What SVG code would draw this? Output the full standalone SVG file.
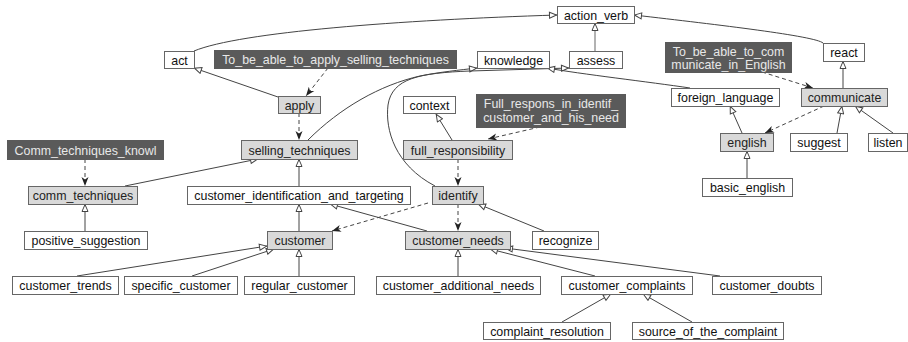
<svg xmlns="http://www.w3.org/2000/svg" width="908" height="342" viewBox="0 0 908 342">
<defs>
<marker id="h" viewBox="0 0 10 8" refX="8.5" refY="4" markerWidth="10" markerHeight="8" orient="auto" markerUnits="userSpaceOnUse"><path d="M1,1 L8,4 L1,7 z" fill="#fff" stroke="#444" stroke-width="1"/></marker>
<marker id="v" viewBox="0 0 9 8" refX="9" refY="4" markerWidth="9" markerHeight="8" orient="auto" markerUnits="userSpaceOnUse"><path d="M0,0.5 L9,4 L0,7.5 L2.5,4 z" fill="#222"/></marker>
<style>
.n rect{stroke:#666;stroke-width:1}
.w rect{fill:#fff}
.g rect{fill:#d9d9d9}
.d rect{fill:#5a5a5a;stroke:#5a5a5a}
text{font-family:"Liberation Sans",Arial,sans-serif;font-size:12.4px;text-anchor:middle}
.w text{fill:#111}
.g text{fill:#222}
.d text{fill:#e8e8e8}
.e path{fill:none;stroke:#444;stroke-width:1}
.e .s{marker-end:url(#h)}
.e .ds{stroke-dasharray:4,3;marker-end:url(#v)}
.e .lt{stroke:#999;stroke-width:1.5}
</style>
</defs>
<g id="connectors" class="e">
<path class="s" d="M194,51 C240,32 400,20 557,15"/>
<path class="s" d="M823,43 C815,36 720,25 634,15"/>
<path class="s lt" d="M595,51 L595,23"/>
<path class="s" d="M278,97 L194,68"/>
<path class="ds" d="M328,68 L306,96"/>
<path class="ds" d="M299,113 L299,140"/>
<path class="s" d="M308,140 C340,108 380,85 420,76 C440,72 460,70 477,68"/>
<path class="s" d="M435,186 C395,165 385,130 388,105 C392,78 420,73 470,71 L569,68"/>
<path class="s" d="M690,88 C650,82 580,74 547,68"/>
<path class="s" d="M452,140 L436,114"/>
<path class="ds" d="M540,127 L488,139"/>
<path class="ds" d="M458,159 L458,186"/>
<path class="ds" d="M458,204 L458,231"/>
<path class="ds" d="M428,203 L332,231"/>
<path class="s" d="M427,231 L330,204"/>
<path class="s" d="M544,231 L478,204"/>
<path class="s" d="M299,186 L299,159"/>
<path class="s" d="M125,186 L258,159"/>
<path class="ds" d="M85,159 L85,186"/>
<path class="s" d="M85,231 L85,204"/>
<path class="s" d="M299,231 L299,204"/>
<path class="s" d="M77,276 L267,246"/>
<path class="s" d="M192,276 L274,249"/>
<path class="s" d="M299,276 L299,249"/>
<path class="s" d="M458,276 L458,249"/>
<path class="s" d="M595,276 L490,249"/>
<path class="s" d="M720,276 L505,248"/>
<path class="s" d="M562,322 L611,294"/>
<path class="s" d="M692,322 L643,294"/>
<path class="s" d="M742,133 L730,106"/>
<path class="ds" d="M824,106 L765,133"/>
<path class="ds" d="M762,72 L813,88"/>
<path class="s" d="M843,88 L843,61"/>
<path class="s" d="M837,133 L842,106"/>
<path class="s" d="M893,133 L855,106"/>
<path class="s" d="M747,178 L747,151"/>
</g>
<g id="action_verb" class="n w"><rect x="557.5" y="6.5" width="77" height="17"/><text x="596" y="19.5">action_verb</text></g>
<g id="act" class="n w"><rect x="164.5" y="51.5" width="30" height="17"/><text x="179.5" y="64.5">act</text></g>
<g id="To_be_able_to_apply_selling_techniques" class="n d"><rect x="214.5" y="50.5" width="242" height="18"/><text x="335.5" y="64">To_be_able_to_apply_selling_techniques</text></g>
<g id="knowledge" class="n w"><rect x="477.5" y="51.5" width="72" height="17"/><text x="513.5" y="64.5">knowledge</text></g>
<g id="assess" class="n w"><rect x="569.5" y="51.5" width="53" height="17"/><text x="596" y="64.5">assess</text></g>
<g id="react" class="n w"><rect x="823.5" y="43.5" width="41" height="18"/><text x="844" y="57">react</text></g>
<g id="To_be_able_to_communicate_in_English" class="n d"><rect x="665.5" y="42.5" width="126" height="30"/><text x="728.5" y="55.5">To_be_able_to_com</text><text x="728.5" y="68.5">municate_in_English</text></g>
<g id="apply" class="n g"><rect x="278.5" y="96.5" width="42" height="17"/><text x="299.5" y="109.5">apply</text></g>
<g id="context" class="n w"><rect x="403.5" y="96.5" width="52" height="17"/><text x="429.5" y="109.5">context</text></g>
<g id="Full_respons_in_identif_customer_and_his_need" class="n d"><rect x="476.5" y="94.5" width="149" height="33"/><text x="551" y="108">Full_respons_in_identif_</text><text x="551" y="121.5">customer_and_his_need</text></g>
<g id="foreign_language" class="n w"><rect x="671.5" y="88.5" width="108" height="18"/><text x="725.5" y="102">foreign_language</text></g>
<g id="communicate" class="n g"><rect x="801.5" y="88.5" width="86" height="18"/><text x="844.5" y="102">communicate</text></g>
<g id="Comm_techniques_knowl" class="n d"><rect x="7.5" y="140.5" width="156" height="19"/><text x="85.5" y="154.5">Comm_techniques_knowl</text></g>
<g id="selling_techniques" class="n g"><rect x="241.5" y="140.5" width="116" height="19"/><text x="299.5" y="154.5">selling_techniques</text></g>
<g id="full_responsibility" class="n g"><rect x="403.5" y="140.5" width="109" height="19"/><text x="458" y="154.5">full_responsibility</text></g>
<g id="english" class="n g"><rect x="720.5" y="133.5" width="53" height="18"/><text x="747" y="147">english</text></g>
<g id="suggest" class="n w"><rect x="790.5" y="133.5" width="57" height="18"/><text x="819" y="147">suggest</text></g>
<g id="listen" class="n w"><rect x="868.5" y="133.5" width="39" height="18"/><text x="888" y="147">listen</text></g>
<g id="basic_english" class="n w"><rect x="702.5" y="178.5" width="90" height="18"/><text x="747.5" y="192">basic_english</text></g>
<g id="comm_techniques" class="n g"><rect x="28.5" y="186.5" width="109" height="18"/><text x="83" y="200">comm_techniques</text></g>
<g id="customer_identification_and_targeting" class="n w"><rect x="187.5" y="186.5" width="223" height="18"/><text x="299" y="200">customer_identification_and_targeting</text></g>
<g id="identify" class="n g"><rect x="432.5" y="186.5" width="51" height="18"/><text x="458" y="200">identify</text></g>
<g id="positive_suggestion" class="n w"><rect x="24.5" y="231.5" width="123" height="18"/><text x="86" y="245">positive_suggestion</text></g>
<g id="customer" class="n g"><rect x="267.5" y="231.5" width="65" height="18"/><text x="300" y="245">customer</text></g>
<g id="customer_needs" class="n g"><rect x="405.5" y="231.5" width="105" height="18"/><text x="458" y="245">customer_needs</text></g>
<g id="recognize" class="n w"><rect x="532.5" y="231.5" width="66" height="18"/><text x="565.5" y="245">recognize</text></g>
<g id="customer_trends" class="n w"><rect x="12.5" y="276.5" width="106" height="18"/><text x="65.5" y="290">customer_trends</text></g>
<g id="specific_customer" class="n w"><rect x="124.5" y="276.5" width="113" height="18"/><text x="181" y="290">specific_customer</text></g>
<g id="regular_customer" class="n w"><rect x="244.5" y="276.5" width="110" height="18"/><text x="299.5" y="290">regular_customer</text></g>
<g id="customer_additional_needs" class="n w"><rect x="376.5" y="276.5" width="164" height="18"/><text x="458.5" y="290">customer_additional_needs</text></g>
<g id="customer_complaints" class="n w"><rect x="561.5" y="276.5" width="131" height="18"/><text x="627" y="290">customer_complaints</text></g>
<g id="customer_doubts" class="n w"><rect x="712.5" y="276.5" width="109" height="18"/><text x="767" y="290">customer_doubts</text></g>
<g id="complaint_resolution" class="n w"><rect x="483.5" y="322.5" width="127" height="17"/><text x="547" y="335.5">complaint_resolution</text></g>
<g id="source_of_the_complaint" class="n w"><rect x="632.5" y="322.5" width="151" height="17"/><text x="708" y="335.5">source_of_the_complaint</text></g>
</svg>
